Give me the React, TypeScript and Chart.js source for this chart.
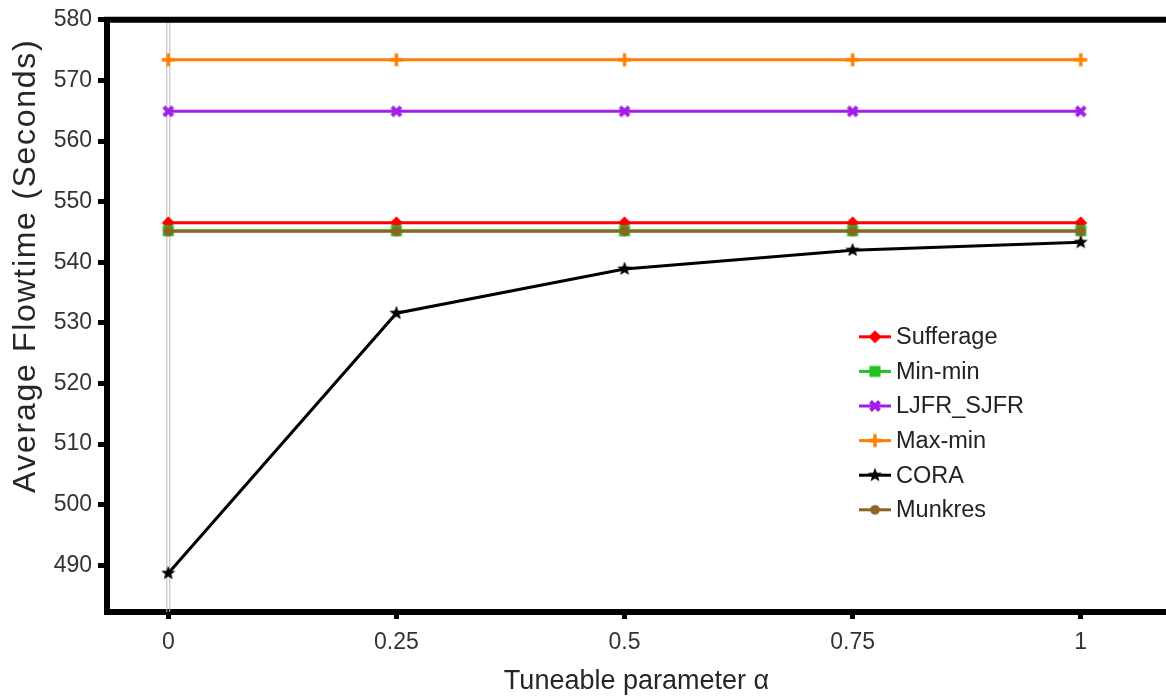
import React, { useEffect, useRef } from 'react';
import { Chart, registerables } from 'chart.js';

Chart.register(...registerables);

// ---- data ----
const alphaValues = [0, 0.25, 0.5, 0.75, 1];
const xTickLabels = ['0', '0.25', '0.5', '0.75', '1'];
const yTickValues = [490, 500, 510, 520, 530, 540, 550, 560, 570, 580];

const sufferage = [546.5, 546.5, 546.5, 546.5, 546.5];
const minMin = [545.2, 545.2, 545.2, 545.2, 545.2];
const ljfrSjfr = [564.9, 564.9, 564.9, 564.9, 564.9];
const maxMin = [573.4, 573.4, 573.4, 573.4, 573.4];
const cora = [488.7, 531.6, 538.9, 542.0, 543.3];
const munkres = [545.1, 545.1, 545.1, 545.1, 545.1];

const seriesNames = ['Sufferage', 'Min-min', 'LJFR_SJFR', 'Max-min', 'CORA', 'Munkres'];
const seriesValues = [sufferage, minMin, ljfrSjfr, maxMin, cora, munkres];
const seriesColors = ['#ff0000', '#22c022', '#a21fe6', '#ff8000', '#000000', '#8c6424'];
const seriesMarkers = ['diamond', 'square', 'xcross', 'plus', 'star', 'circle'];

const FONT = '"Liberation Sans", Arial, sans-serif';

function makeMarker(kind: string, color: string): HTMLCanvasElement {
  const c = document.createElement('canvas');
  c.width = 20;
  c.height = 20;
  const ctx = c.getContext('2d')!;
  const cx = 10, cy = 10;
  ctx.fillStyle = color;
  ctx.strokeStyle = color;
  if (kind === 'diamond') {
    ctx.beginPath();
    ctx.moveTo(cx, cy - 6.5);
    ctx.lineTo(cx + 6.5, cy);
    ctx.lineTo(cx, cy + 6.5);
    ctx.lineTo(cx - 6.5, cy);
    ctx.closePath();
    ctx.fill();
  } else if (kind === 'square') {
    ctx.fillRect(cx - 5.5, cy - 5.5, 11, 11);
  } else if (kind === 'xcross') {
    ctx.lineWidth = 4;
    ctx.beginPath();
    ctx.moveTo(cx - 4.5, cy - 4.5);
    ctx.lineTo(cx + 4.5, cy + 4.5);
    ctx.moveTo(cx + 4.5, cy - 4.5);
    ctx.lineTo(cx - 4.5, cy + 4.5);
    ctx.stroke();
  } else if (kind === 'plus') {
    ctx.lineWidth = 3.5;
    ctx.beginPath();
    ctx.moveTo(cx - 6.5, cy);
    ctx.lineTo(cx + 6.5, cy);
    ctx.moveTo(cx, cy - 6.5);
    ctx.lineTo(cx, cy + 6.5);
    ctx.stroke();
  } else if (kind === 'star') {
    ctx.beginPath();
    for (let i = 0; i < 10; i++) {
      const r = i % 2 === 0 ? 7.5 : 3.2;
      const a = -Math.PI / 2 + (i * Math.PI) / 5;
      const px = cx + r * Math.cos(a);
      const py = cy + r * Math.sin(a);
      if (i === 0) ctx.moveTo(px, py);
      else ctx.lineTo(px, py);
    }
    ctx.closePath();
    ctx.fill();
  } else {
    ctx.beginPath();
    ctx.arc(cx, cy, 4.8, 0, Math.PI * 2);
    ctx.fill();
  }
  return c;
}

export default function App() {
  const ref = useRef<HTMLCanvasElement | null>(null);

  useEffect(() => {
    document.body.style.margin = '0';
    document.body.style.overflow = 'hidden';
    const canvas = ref.current!;
    const markers = seriesMarkers.map((m, i) => makeMarker(m, seriesColors[i]));

    const datasets = seriesNames.map((name, i) => ({
      label: name,
      data: alphaValues.map((a, j) => ({ x: a, y: seriesValues[i][j] })),
      borderColor: seriesColors[i],
      backgroundColor: seriesColors[i],
      borderWidth: 3,
      pointStyle: markers[i] as any,
      pointRadius: 7,
      pointHoverRadius: 7,
      tension: 0,
      fill: false,
      order: -i,
    }));

    const framePlugin = {
      id: 'framePlugin',
      beforeDatasetsDraw(chart: any) {
        const { ctx, chartArea } = chart;
        const px = chart.scales.x.getPixelForValue(0);
        ctx.save();
        ctx.strokeStyle = '#b8b8b8';
        ctx.lineWidth = 1;
        ctx.beginPath();
        ctx.moveTo(px - 1.5, chartArea.top);
        ctx.lineTo(px - 1.5, chartArea.bottom);
        ctx.moveTo(px + 1.5, chartArea.top);
        ctx.lineTo(px + 1.5, chartArea.bottom);
        ctx.stroke();
        ctx.restore();
      },
      afterDraw(chart: any) {
        const { ctx, chartArea } = chart;
        ctx.save();
        // top frame line
        ctx.strokeStyle = '#000';
        ctx.lineWidth = 6;
        ctx.beginPath();
        ctx.moveTo(chartArea.left - 3, chartArea.top);
        ctx.lineTo(chartArea.right, chartArea.top);
        ctx.stroke();

        // y axis title
        ctx.fillStyle = '#262626';
        ctx.font = `32px ${FONT}`;
        (ctx as any).letterSpacing = '1.7px';
        ctx.textAlign = 'center';
        ctx.textBaseline = 'alphabetic';
        ctx.translate(35, (chartArea.top + chartArea.bottom) / 2 - 50);
        ctx.rotate(-Math.PI / 2);
        ctx.fillText('Average Flowtime (Seconds)', 0, 0);
        ctx.restore();

        // legend
        ctx.save();
        const x0 = chartArea.left + 752;
        const y0 = chartArea.top + 317;
        const step = 34.6;
        ctx.font = `23.5px ${FONT}`;
        ctx.textAlign = 'left';
        ctx.textBaseline = 'middle';
        seriesNames.forEach((name, i) => {
          const y = y0 + i * step;
          ctx.strokeStyle = seriesColors[i];
          ctx.lineWidth = 3;
          ctx.beginPath();
          ctx.moveTo(x0, y);
          ctx.lineTo(x0 + 32, y);
          ctx.stroke();
          const m = markers[i];
          ctx.drawImage(m, x0 + 16 - m.width / 2, y - m.height / 2);
          ctx.fillStyle = '#222';
          ctx.fillText(name, x0 + 37, y + 1);
        });
        ctx.restore();
      },
    };

    const chart = new Chart(canvas, {
      type: 'line',
      data: { datasets: datasets as any },
      options: {
        animation: false,
        responsive: false,
        layout: { autoPadding: false, padding: { top: 19, left: 0, right: 0, bottom: 0 } },
        plugins: {
          legend: { display: false },
          tooltip: { enabled: false },
        },
        scales: {
          x: {
            type: 'linear',
            min: -0.0672,
            max: 1.0935,
            afterBuildTicks: (scale: any) => {
              scale.ticks = alphaValues.map((v) => ({ value: v }));
            },
            afterFit: (scale: any) => {
              scale.height = 84;
              scale.paddingRight = 0;
              scale.paddingLeft = 0;
            },
            ticks: {
              color: '#333',
              font: { family: FONT, size: 23 },
              padding: 10,
              maxRotation: 0,
              callback: (value: any) => {
                const i = alphaValues.indexOf(Number(value));
                return i >= 0 ? xTickLabels[i] : '';
              },
            },
            grid: {
              display: true,
              drawOnChartArea: false,
              drawTicks: true,
              tickLength: 7,
              tickWidth: 5,
              tickColor: '#000',
            },
            border: { display: true, color: '#000', width: 6 },
            title: {
              display: true,
              text: 'Tuneable parameter α',
              color: '#262626',
              font: { family: FONT, size: 27 },
              padding: { top: 0, bottom: -2 },
            },
          },
          y: {
            type: 'linear',
            min: 482.3,
            max: 580,
            afterBuildTicks: (scale: any) => {
              scale.ticks = yTickValues.map((v) => ({ value: v }));
            },
            afterFit: (scale: any) => {
              scale.width = 107;
            },
            ticks: {
              color: '#333',
              font: { family: FONT, size: 23 },
              padding: 6,
              callback: (value: any) => String(value),
            },
            grid: {
              display: true,
              drawOnChartArea: false,
              drawTicks: true,
              tickLength: 9,
              tickWidth: 5,
              tickColor: '#000',
            },
            border: { display: true, color: '#000', width: 6 },
          },
        },
      },
      plugins: [framePlugin],
    });

    return () => chart.destroy();
  }, []);

  return (
    <div style={{ width: 1166, height: 696 }}>
      <canvas ref={ref} width={1166} height={696} style={{ display: 'block' }} />
    </div>
  );
}
